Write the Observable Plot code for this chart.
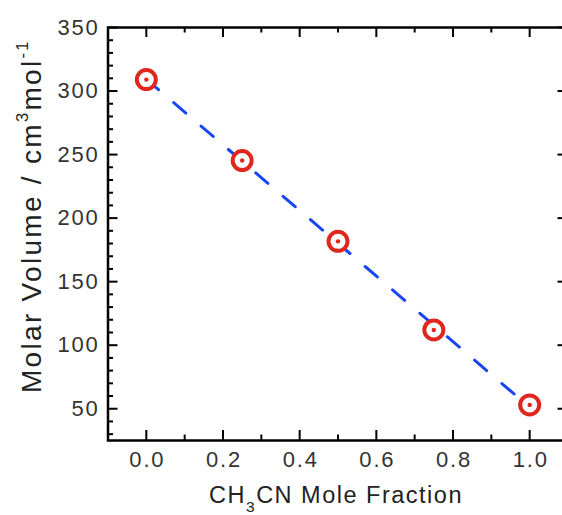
<!DOCTYPE html>
<html><head><meta charset="utf-8">
<script src="https://cdn.jsdelivr.net/npm/d3@7"></script>
<script src="https://cdn.jsdelivr.net/npm/@observablehq/plot@0.6"></script>
<style>
html,body{margin:0;padding:0;background:#fff;overflow:hidden}
#chart svg{display:block}
#chart svg text{letter-spacing:1.8px}
</style></head><body><div id="chart"></div>
<script>
// Data
const moleFraction = [0, 0.25, 0.5, 0.75, 1.0];
const molarVolume = [309, 245.3, 181.7, 112, 53];
// Tick values
const xTicks = [0, 0.2, 0.4, 0.6, 0.8, 1.0];
const xMinorTicks = [0.1, 0.3, 0.5, 0.7, 0.9];
const yTicks = [50, 100, 150, 200, 250, 300, 350];
const yMinorTicks = [30, 40, 60, 70, 80, 90, 110, 120, 130, 140, 160, 170, 180, 190, 210, 220, 230, 240, 260, 270, 280, 290, 310, 320, 330, 340];

const data = moleFraction.map((x, i) => ({x, y: molarVolume[i]}));

const W = 562, H = 515, mL = 107.5, mR = -5.5, mT = 27, mB = 75;
const innerW = W - mL - mR;
const innerH = H - mT - mB;
const MAJ = 10, MIN = 5.5;
const tk = {stroke: "#000", strokeWidth: 2};
const red = "#e1261d", blue = "#1747f5";

const plot = Plot.plot({
  width: W, height: H,
  marginLeft: mL, marginRight: mR, marginTop: mT, marginBottom: mB,
  style: {fontFamily: "'Liberation Sans', Arial, sans-serif", background: "#fff", overflow: "hidden"},
  x: {domain: [-0.1, 1.1]},
  y: {domain: [25, 350]},
  marks: [
    Plot.axisX(xTicks, {tickSize: 0, tickPadding: 10.5, tickFormat: d3.format(".1f"), fontSize: 22, color: "#333", label: null, dx: 1}),
    Plot.axisY(yTicks, {tickSize: 0, tickPadding: 8.5, fontSize: 22, color: "#333", label: null}),
    // inward ticks on all four sides
    Plot.tickY(yTicks, {y: d => d, insetRight: innerW - MAJ, ...tk}),
    Plot.tickY(yMinorTicks, {y: d => d, insetRight: innerW - MIN, ...tk}),
    Plot.tickY(yTicks, {y: d => d, insetLeft: innerW - MAJ, ...tk}),
    Plot.tickY(yMinorTicks, {y: d => d, insetLeft: innerW - MIN, ...tk}),
    Plot.tickX(xTicks, {x: d => d, insetTop: innerH - MAJ, ...tk}),
    Plot.tickX(xMinorTicks, {x: d => d, insetTop: innerH - MIN, ...tk}),
    Plot.tickX(xTicks, {x: d => d, insetBottom: innerH - MAJ, ...tk}),
    Plot.tickX(xMinorTicks, {x: d => d, insetBottom: innerH - MIN, ...tk}),
    Plot.linearRegressionY(data, {x: "x", y: "y", ci: 0, stroke: blue, strokeWidth: 3, strokeDasharray: "16,20", strokeLinecap: "round"}),
    Plot.dot(data, {x: "x", y: "y", r: 9.5, stroke: red, strokeWidth: 4, fill: "#fff"}),
    Plot.dot(data, {x: "x", y: "y", r: 2.2, fill: red, stroke: null}),
    Plot.frame({stroke: "#000", strokeWidth: 2.5})
  ]
});

const svg = d3.select(plot);
const xl = svg.append("text")
  .attr("x", 336).attr("y", 503)
  .attr("text-anchor", "middle")
  .attr("fill", "#222")
  .attr("style", "font-size:23.5px;letter-spacing:1.5px");
xl.append("tspan").text("CH");
xl.append("tspan").attr("dy", 8.5).attr("style", "font-size:15.5px").text("3");
xl.append("tspan").attr("dy", -8.5).text("CN Mole Fraction");

const yl = svg.append("text")
  .attr("transform", "translate(41,393) rotate(-90)")
  .attr("text-anchor", "start")
  .attr("fill", "#222")
  .attr("style", "font-size:28px;letter-spacing:2.3px");
yl.append("tspan").text("Molar Volume / cm");
yl.append("tspan").attr("dy", -13).attr("style", "font-size:16.5px").text("3");
yl.append("tspan").attr("dy", 13).text("mol");
yl.append("tspan").attr("dy", -13).attr("style", "font-size:16.5px").text("-1");

document.getElementById("chart").appendChild(plot);
</script>
</body></html>
